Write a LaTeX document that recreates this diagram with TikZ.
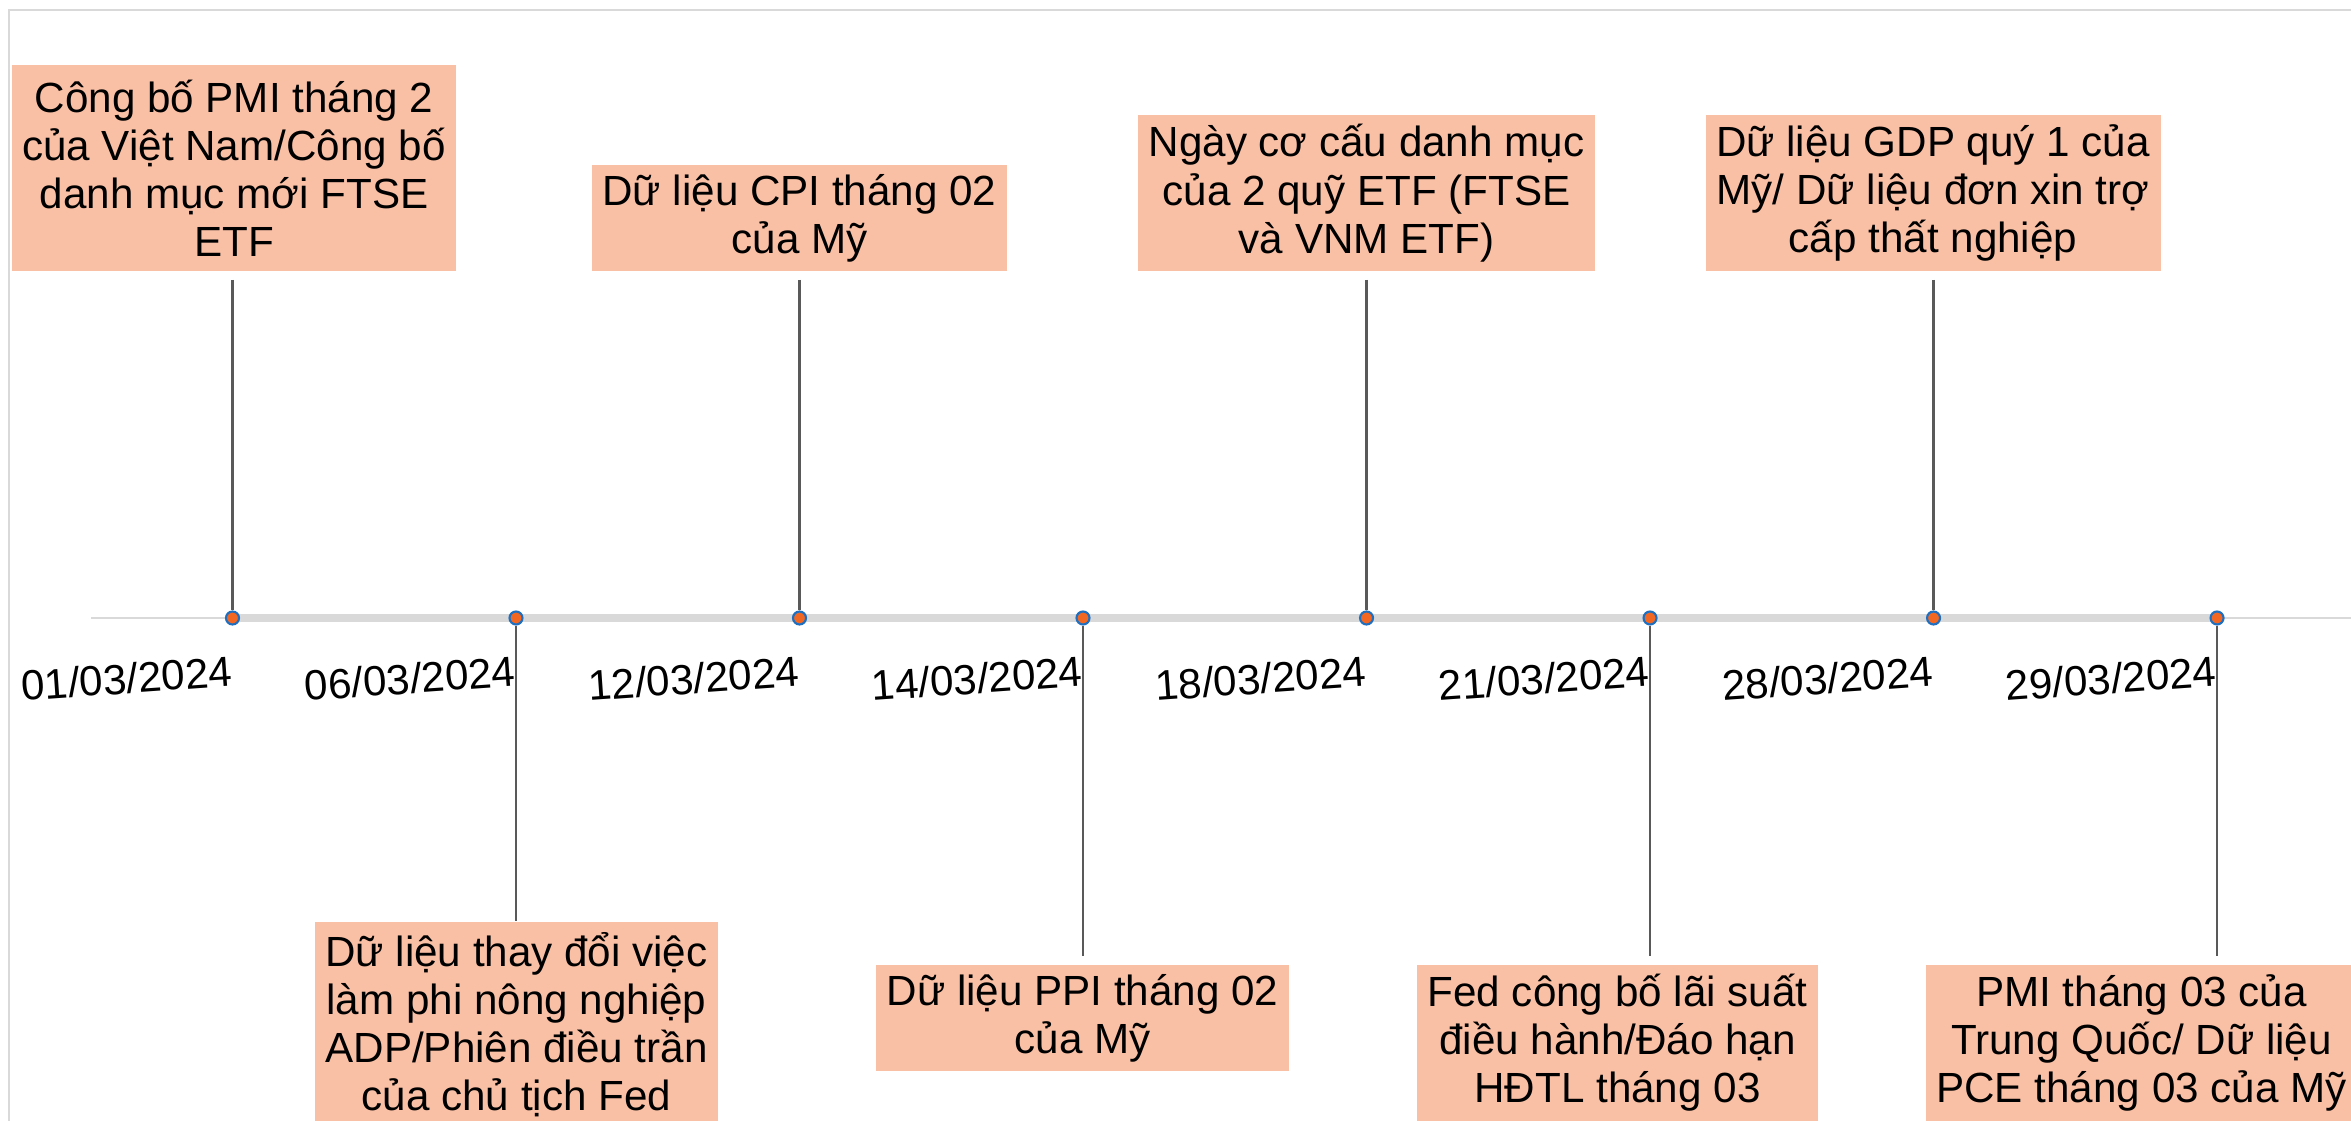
\documentclass[tikz,border=0pt]{standalone}
\usepackage{fontspec}
\setmainfont{Liberation Sans}
\usepackage{xcolor}
\usepackage{tikz}
\usetikzlibrary{backgrounds}
\definecolor{evtsalmon}{HTML}{FAC0A6}
\definecolor{dotorange}{HTML}{F26722}
\definecolor{dotblue}{HTML}{1F6FC0}
\definecolor{axisgray}{HTML}{D9D9D9}
\definecolor{stemgray}{HTML}{595959}

\begin{document}
\begin{tikzpicture}[
    event/.style={fill=evtsalmon, align=center, inner sep=0pt,
                  font=\fontsize{12}{13.7}\selectfont},
    tick/.style={circle, draw=dotblue, fill=dotorange, line width=0.6pt,
                 minimum size=0.13cm, inner sep=0pt},
    datelbl/.style={anchor=east, rotate=4, inner sep=0pt,
                    font=\fontsize{12}{13.7}\selectfont},
    stem/.style={stemgray, line width=0.6pt},
]
    \useasboundingbox (0,0) rectangle (23.51,11.21);
    \clip (0,0) rectangle (23.51,11.21);

    % frame
    \draw[axisgray, line width=0.6pt] (0.09,0) -- (0.09,11.11) -- (23.51,11.11);

    % events above the line
    \node[event, anchor=south, minimum width=4.44cm, minimum height=2.06cm] (pmi) at (2.34, 8.49)
        {Công bố PMI tháng 2\\của Việt Nam/Công bố\\danh mục mới FTSE\\ETF};
    \node[event, anchor=south, minimum width=4.15cm, minimum height=1.065cm] (cpi) at (7.995, 8.49)
        {Dữ liệu CPI tháng 02\\của Mỹ};
    \node[event, anchor=south, minimum width=4.57cm, minimum height=1.56cm] (etf) at (13.665, 8.49)
        {Ngày cơ cấu danh mục\\của 2 quỹ ETF (FTSE\\và VNM ETF)};
    \node[event, anchor=south, minimum width=4.55cm, minimum height=1.56cm] (gdp) at (19.33, 8.49)
        {Dữ liệu GDP quý 1 của\\Mỹ/ Dữ liệu đơn xin trợ\\cấp thất nghiệp};

    % events below the line
    \node[event, anchor=north, minimum width=4.03cm, minimum height=2.06cm] (adp) at (5.165, 2.00)
        {Dữ liệu thay đổi việc\\làm phi nông nghiệp\\ADP/Phiên điều trần\\của chủ tịch Fed};
    \node[event, anchor=north, minimum width=4.13cm, minimum height=1.065cm] (ppi) at (10.825, 1.57)
        {Dữ liệu PPI tháng 02\\của Mỹ};
    \node[event, anchor=north, minimum width=4.01cm, minimum height=1.56cm] (fed) at (16.175, 1.57)
        {Fed công bố lãi suất\\điều hành/Đáo hạn\\HĐTL tháng 03};
    \node[event, anchor=north, minimum width=4.31cm, minimum height=1.56cm] (pce) at (21.415, 1.57)
        {PMI tháng 03 của\\Trung Quốc/ Dữ liệu\\PCE tháng 03 của Mỹ};

    % dates on the line
    \node[tick] (d1) at (2.325, 5.03) {};
    \node[tick] (d2) at (5.160, 5.03) {};
    \node[tick] (d3) at (7.995, 5.03) {};
    \node[tick] (d4) at (10.830, 5.03) {};
    \node[tick] (d5) at (13.665, 5.03) {};
    \node[tick] (d6) at (16.500, 5.03) {};
    \node[tick] (d7) at (19.335, 5.03) {};
    \node[tick] (d8) at (22.170, 5.03) {};

    \node[datelbl] (t1) at ([yshift=-0.53cm]d1.center) {01/03/2024};
    \node[datelbl] (t2) at ([yshift=-0.53cm]d2.center) {06/03/2024};
    \node[datelbl] (t3) at ([yshift=-0.53cm]d3.center) {12/03/2024};
    \node[datelbl] (t4) at ([yshift=-0.53cm]d4.center) {14/03/2024};
    \node[datelbl] (t5) at ([yshift=-0.53cm]d5.center) {18/03/2024};
    \node[datelbl] (t6) at ([yshift=-0.53cm]d6.center) {21/03/2024};
    \node[datelbl] (t7) at ([yshift=-0.53cm]d7.center) {28/03/2024};
    \node[datelbl] (t8) at ([yshift=-0.53cm]d8.center) {29/03/2024};

    \begin{scope}[on background layer]
        % axis
        \coordinate (axl) at (0.91, 5.03);
        \coordinate (axr) at (23.51, 5.03);
        \draw[axisgray, line width=0.5pt] (axl) -- (axr);
        \draw[axisgray, line width=2pt] (d1.center) -- (d8.center);

        % stems
        \draw[stem, shorten <=0.08cm] (d1 |- pmi.south) -- (d1);
        \draw[stem, shorten <=0.08cm] (d3 |- cpi.south) -- (d3);
        \draw[stem, shorten <=0.08cm] (d5 |- etf.south) -- (d5);
        \draw[stem, shorten <=0.08cm] (d7 |- gdp.south) -- (d7);
        \draw[stem] (d2) -- (d2 |- adp.north);
        \draw[stem, shorten >=0.08cm] (d4) -- (d4 |- ppi.north);
        \draw[stem, shorten >=0.08cm] (d6) -- (d6 |- fed.north);
        \draw[stem, shorten >=0.08cm] (d8) -- (d8 |- pce.north);
    \end{scope}
\end{tikzpicture}
\end{document}
